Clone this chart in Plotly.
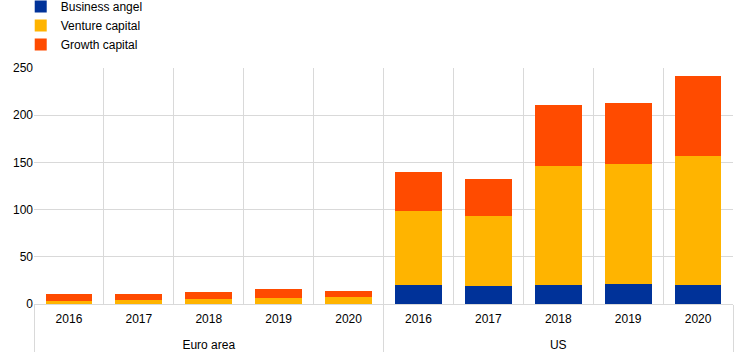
import plotly.graph_objects as go

regions = ["<br>Euro area"] * 5 + ["<br>US"] * 5
years = ["2016", "2017", "2018", "2019", "2020"] * 2

business_angel = [0.3, 0.3, 0.3, 0.3, 0.3, 20, 19.5, 20, 21.5, 20.5]
venture_capital = [3.0, 3.9, 5.0, 6.4, 6.7, 78, 73.5, 126, 127, 136]
growth_capital = [7.4, 6.2, 7.7, 9.2, 6.8, 42, 39, 64.5, 64, 85.5]

series = [
    ("Business angel", business_angel, "#003299"),
    ("Venture capital", venture_capital, "#FFB400"),
    ("Growth capital", growth_capital, "#FF4B00"),
]

fig = go.Figure()
for name, vals, color in series:
    fig.add_trace(go.Bar(
        x=[regions, years], y=vals, name=name,
        marker=dict(color=color, line=dict(width=0)),
    ))

fig.update_layout(
    barmode="stack",
    bargap=0.33,
    width=744, height=353,
    margin=dict(l=34, r=11, t=68, b=49, autoexpand=False),
    paper_bgcolor="white",
    plot_bgcolor="white",
    font=dict(family="Liberation Sans, Arial, sans-serif", size=12, color="#000000"),
    legend=dict(
        orientation="v", x=-0.019, xanchor="left",
        y=1.322, yanchor="top", yref="paper",
        font=dict(size=12, color="#000000"),
        tracegroupgap=0, itemwidth=30, bgcolor="rgba(0,0,0,0)",
        traceorder="normal",
    ),
    showlegend=True,
)
fig.update_xaxes(
    type="multicategory",
    tickson="boundaries",
    showgrid=True, gridcolor="#d9d9d9", gridwidth=1,
    showdividers=True, dividercolor="#d9d9d9", dividerwidth=1,
    ticks="", showline=False,
    ticklabelstandoff=6,
    tickfont=dict(size=12, color="#000000"),
)
fig.update_yaxes(
    range=[0, 250], tickvals=[0, 50, 100, 150, 200, 250],
    showgrid=True, gridcolor="#d9d9d9", gridwidth=1,
    zeroline=True, zerolinecolor="#d9d9d9", zerolinewidth=1,
    ticks="", showline=False,
    tickfont=dict(size=12, color="#000000"),
)

fig.write_html("out.html")
